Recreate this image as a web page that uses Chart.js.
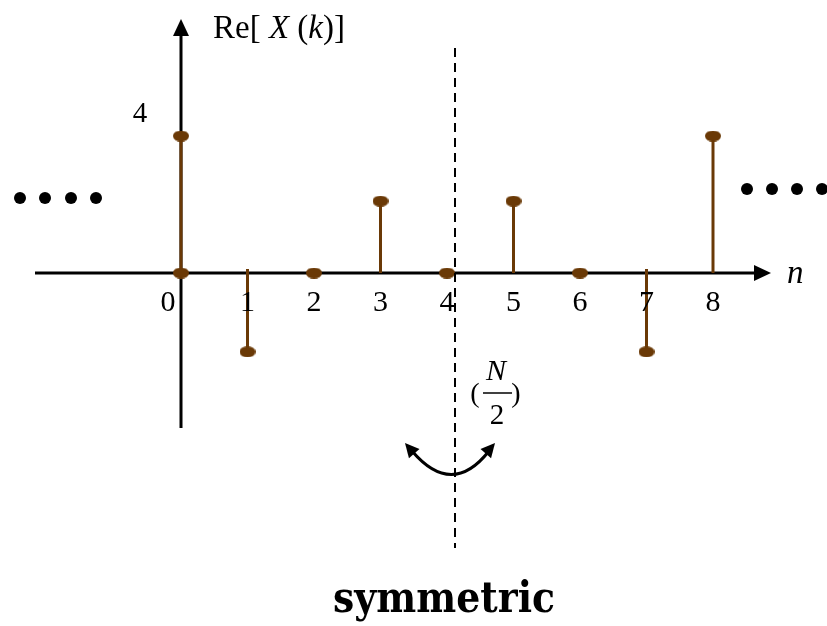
<!DOCTYPE html>
<html lang="en">
<head>
<meta charset="UTF-8">
<title>Re[X(k)] stem plot</title>
<style>
    body { margin: 0; background: #ffffff; }
    #wrap { width: 827px; height: 626px; }
</style>
<script src="https://cdn.jsdelivr.net/npm/chart.js"></script>
</head>
<body>
<div id="wrap"><canvas id="stem" width="827" height="626"></canvas></div>
<script>
// data
const nValues = [0, 1, 2, 3, 4, 5, 6, 7, 8];
const reX = [4, -2.3, 0, 2.1, 0, 2.1, 0, -2.3, 4];
const tickLabels = ['0', '1', '2', '3', '4', '5', '6', '7', '8'];
const yTickValues = [4];
const yTickLabels = ['4'];
const originDot = [0];     // the extra dot at the origin
const halfN = 4;           // N/2, symmetry line

const brown = '#6a3906';
const serif = '"Liberation Serif", "DejaVu Serif", serif';

// elliptical marker used as point style
function ellipseMarker(w, h) {
    const c = document.createElement('canvas');
    c.width = w; c.height = h;
    const g = c.getContext('2d');
    g.fillStyle = brown;
    g.beginPath();
    g.ellipse(w / 2, h / 2, w / 2, h / 2, 0, 0, Math.PI * 2);
    g.fill();
    return c;
}
const marker = ellipseMarker(16, 11);

function arrowHead(ctx, tipX, tipY, angle, len, half) {
    ctx.save();
    ctx.translate(tipX, tipY);
    ctx.rotate(angle);
    ctx.beginPath();
    ctx.moveTo(0, 0);
    ctx.lineTo(-len, -half);
    ctx.lineTo(-len, half);
    ctx.closePath();
    ctx.fill();
    ctx.restore();
}

// axes, stems and all the annotation text
const stemPlugin = {
    id: 'stemPlugin',
    beforeDatasetsDraw(chart) {
        const ctx = chart.ctx;
        const xs = chart.scales.x, ys = chart.scales.y;
        const x0 = xs.getPixelForValue(0), y0 = ys.getPixelForValue(0);
        ctx.save();
        ctx.strokeStyle = '#000';
        ctx.fillStyle = '#000';
        ctx.lineWidth = 3;

        // horizontal axis
        ctx.beginPath();
        ctx.moveTo(35, y0);
        ctx.lineTo(758, y0);
        ctx.stroke();
        arrowHead(ctx, 771, y0, 0, 17, 8);

        // vertical axis
        ctx.beginPath();
        ctx.moveTo(x0, 428);
        ctx.lineTo(x0, 34);
        ctx.stroke();
        arrowHead(ctx, x0, 19, -Math.PI / 2, 17, 8);

        // stems
        ctx.strokeStyle = brown;
        ctx.lineWidth = 3;
        nValues.forEach((n, i) => {
            if (reX[i] === 0) return;
            const px = xs.getPixelForValue(n);
            const top = reX[i] < 0 ? y0 - 4 : y0;
            ctx.beginPath();
            ctx.moveTo(px, top);
            ctx.lineTo(px, ys.getPixelForValue(reX[i]));
            ctx.stroke();
        });
        ctx.restore();
    },
    afterDatasetsDraw(chart) {
        const ctx = chart.ctx;
        const xs = chart.scales.x, ys = chart.scales.y;
        const y0 = ys.getPixelForValue(0);
        ctx.save();
        ctx.fillStyle = '#000';
        ctx.strokeStyle = '#000';

        // tick labels on n axis
        ctx.font = '30px ' + serif;
        ctx.textAlign = 'center';
        ctx.textBaseline = 'middle';
        nValues.forEach((n, i) => {
            let px = xs.getPixelForValue(n);
            if (n === 0) px -= 13;
            ctx.fillText(tickLabels[i], px, y0 + 30);
        });

        // y tick label
        ctx.font = '29px ' + serif;
        yTickValues.forEach((v, i) => {
            ctx.fillText(yTickLabels[i], 140, ys.getPixelForValue(v) - 22);
        });

        // axis names
        ctx.textAlign = 'left';
        ctx.textBaseline = 'alphabetic';
        const parts = [['Re[ ', ''], ['X', 'italic '], [' (', ''], ['k', 'italic '], [')]', '']];
        let tx = 213;
        parts.forEach(p => {
            ctx.font = p[1] + '33px ' + serif;
            ctx.fillText(p[0], tx, 38);
            tx += ctx.measureText(p[0]).width;
        });
        ctx.font = 'italic 33px ' + serif;
        ctx.fillText('n', 787, 283);

        // symmetry line at N/2
        const xm = xs.getPixelForValue(halfN) + 8;
        ctx.lineWidth = 2;
        ctx.setLineDash([9, 6]);
        ctx.beginPath();
        ctx.moveTo(xm, 48);
        ctx.lineTo(xm, 548);
        ctx.stroke();
        ctx.setLineDash([]);

        // (N/2)
        ctx.font = '28px ' + serif;
        ctx.textAlign = 'center';
        ctx.textBaseline = 'middle';
        ctx.fillText('(', 475, 395);
        ctx.fillText(')', 516, 395);
        ctx.font = 'italic 30px ' + serif;
        ctx.fillText('N', 496, 372);
        ctx.font = '29px ' + serif;
        ctx.fillText('2', 497, 416);
        ctx.lineWidth = 1.5;
        ctx.beginPath();
        ctx.moveTo(483, 393);
        ctx.lineTo(512, 393);
        ctx.stroke();

        // curved double arrow
        ctx.lineWidth = 3;
        ctx.beginPath();
        ctx.moveTo(412, 451);
        ctx.quadraticCurveTo(452, 498, 489, 451);
        ctx.stroke();
        arrowHead(ctx, 405, 443, Math.atan2(-8, -7), 14, 7);
        arrowHead(ctx, 495, 443, Math.atan2(-8, 7), 14, 7);

        // continuation dots
        [[20, 198], [45, 198], [71, 198], [96, 198],
         [747, 189], [772, 189], [797, 189], [822, 189]].forEach(d => {
            ctx.beginPath();
            ctx.arc(d[0], d[1], 6, 0, Math.PI * 2);
            ctx.fill();
        });

        // caption
        ctx.font = '900 42px "DejaVu Serif", serif';
        ctx.textAlign = 'center';
        ctx.textBaseline = 'alphabetic';
        const cw = ctx.measureText('symmetric').width;
        ctx.save();
        ctx.translate(444, 612);
        ctx.scale(222 / cw, 1);
        ctx.fillText('symmetric', 0, 0);
        ctx.restore();

        ctx.restore();
    }
};

// pixel mapping: n=0 at x=181, 66.5 px per step; 0 at y=273, 34.25 px per unit
const chart = new Chart(document.getElementById('stem'), {
    type: 'scatter',
    data: {
        datasets: [
            {
                label: 'Re[X(k)]',
                data: nValues.map((n, i) => ({ x: n, y: reX[i] })),
                pointStyle: marker,
                backgroundColor: brown,
                borderColor: brown,
                clip: false
            },
            {
                label: 'origin',
                data: originDot.map(n => ({ x: n, y: 0 })),
                pointStyle: marker,
                backgroundColor: brown,
                borderColor: brown,
                clip: false
            }
        ]
    },
    options: {
        responsive: false,
        animation: false,
        layout: { padding: 0, autoPadding: false },
        plugins: {
            legend: { display: false },
            tooltip: { enabled: false }
        },
        scales: {
            x: { type: 'linear', display: false, min: -181 / 66.5, max: (827 - 181) / 66.5 },
            y: { type: 'linear', display: false, min: -(626 - 273) / 34.25, max: 273 / 34.25 }
        }
    },
    plugins: [stemPlugin]
});
</script>
</body>
</html>
